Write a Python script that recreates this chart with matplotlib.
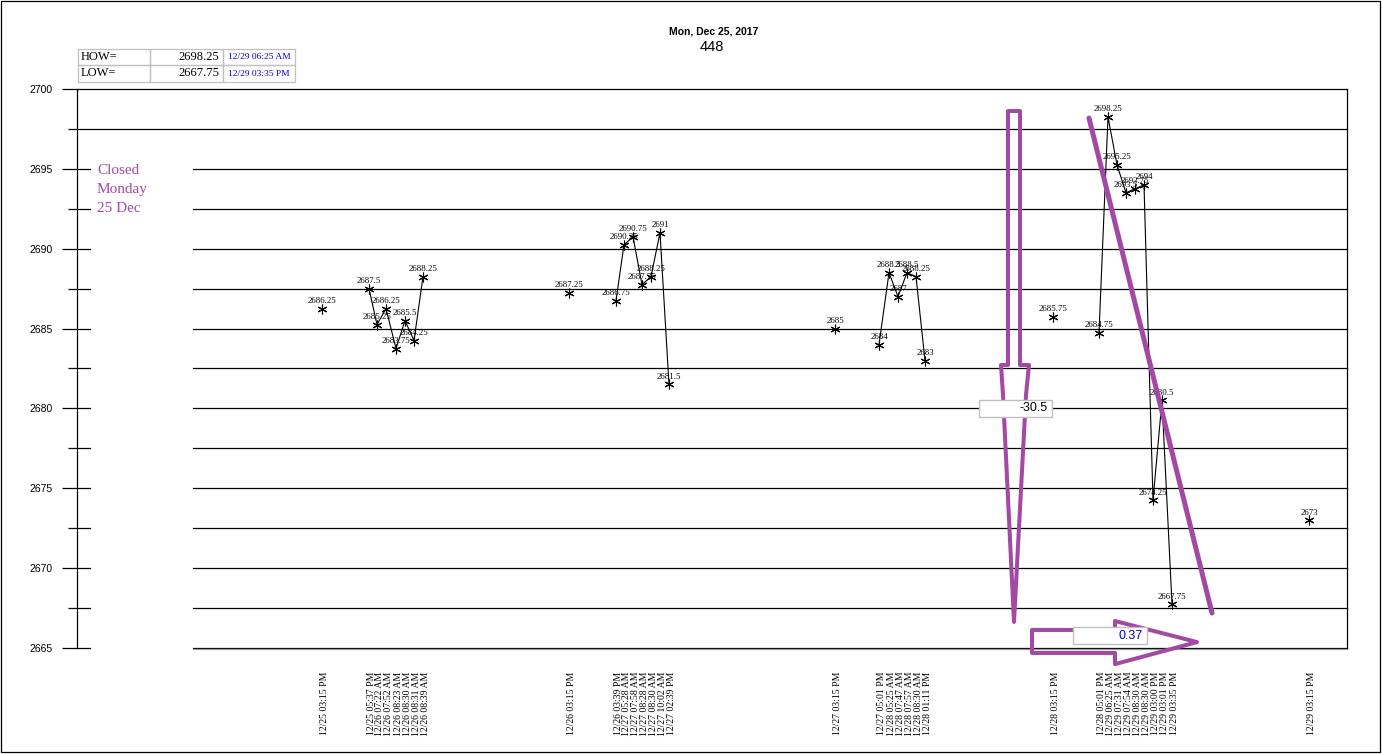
import numpy as np
import matplotlib
matplotlib.use("Agg")
from matplotlib import pyplot as plt
from matplotlib.patches import Rectangle, Polygon
import matplotlib.transforms as mtransforms

W, H = 1382, 754

# ---- data ----
times = ["12/25 03:15 PM",
         "12/25 05:37 PM", "12/26 07:22 AM", "12/26 07:52 AM", "12/26 08:23 AM",
         "12/26 08:30 AM", "12/26 08:31 AM", "12/26 08:39 AM",
         "12/26 03:15 PM",
         "12/26 03:39 PM", "12/27 05:28 AM", "12/27 07:58 AM", "12/27 08:28 AM",
         "12/27 08:30 AM", "12/27 10:02 AM", "12/27 02:39 PM",
         "12/27 03:15 PM",
         "12/27 05:01 PM", "12/28 05:25 AM", "12/28 07:47 AM", "12/28 07:57 AM",
         "12/28 08:30 AM", "12/28 01:11 PM",
         "12/28 03:15 PM",
         "12/28 05:01 PM", "12/29 06:25 AM", "12/29 07:31 AM", "12/29 07:54 AM",
         "12/29 08:30 AM", "12/29 08:30 AM", "12/29 03:00 PM", "12/29 03:01 PM",
         "12/29 03:35 PM",
         "12/29 03:15 PM"]

# horizontal slot of each quote (chart's own uneven spacing)
x_pos = [322,
         369, 377, 386, 396, 405, 414, 423,
         569,
         616, 624, 633, 642, 651, 660, 669,
         835,
         879, 889, 898, 907, 916, 925,
         1053,
         1099, 1108, 1117, 1126, 1135, 1144, 1153, 1162, 1172,
         1309]

prices = [2686.25,
          2687.5, 2685.25, 2686.25, 2683.75, 2685.5, 2684.25, 2688.25,
          2687.25,
          2686.75, 2690.25, 2690.75, 2687.75, 2688.25, 2691, 2681.5,
          2685,
          2684, 2688.5, 2687, 2688.5, 2688.25, 2683,
          2685.75,
          2684.75, 2698.25, 2695.25, 2693.5, 2693.75, 2694, 2674.25, 2680.5, 2667.75,
          2673]

# points with the same session number are joined by a line
session = [0,
           1, 1, 1, 1, 1, 1, 1,
           2,
           3, 3, 3, 3, 3, 3, 3,
           4,
           5, 5, 5, 5, 5, 5,
           6,
           7, 7, 7, 7, 7, 7, 7, 7, 7,
           8]

hi_lo_names = ["HOW=", "LOW="]
hi_lo_values = ["2698.25", "2667.75"]
hi_lo_times = ["12/29 06:25 AM", "12/29 03:35 PM"]

change_text = "-30.5"
ratio_text = "0.37"
closed_note = ["Closed", "Monday", "25 Dec"]

PURPLE = "#A349A4"
SERIF = "Liberation Serif"
SANS = "Liberation Sans"

fig = plt.figure(figsize=(W / 100, H / 100), dpi=100)
fig.patch.set_facecolor("white")
# pixel transform (y down) for page furniture
pix = mtransforms.Affine2D().scale(1 / W, -1 / H).translate(0, 1) + fig.transFigure

ax = fig.add_axes([77 / W, 1 - 648 / H, 1270 / W, 559 / H])
ax.set_xlim(77, 1347)
ax.set_ylim(2665, 2700)
ax.spines["top"].set_visible(False)
ax.spines["bottom"].set_visible(False)
for s in ["left", "right"]:
    ax.spines[s].set_linewidth(0.9)

# horizontal grid lines, broken where the closed day sits
ytr = ax.get_yaxis_transform()
for lv in np.arange(2665, 2700.1, 2.5):
    if lv >= 2697.5:
        ax.plot([0, 1], [lv, lv], transform=ytr, color="black", lw=0.9, zorder=1, clip_on=False)
    else:
        ax.plot([0, 13 / 1270], [lv, lv], transform=ytr, color="black", lw=0.9, zorder=1, clip_on=False)
        ax.plot([116 / 1270, 1], [lv, lv], transform=ytr, color="black", lw=0.9, zorder=1, clip_on=False)
shadow = ytr + mtransforms.ScaledTranslation(0, -1.2 / 100, fig.dpi_scale_trans)
ax.plot([116 / 1270, 1], [2665, 2665], transform=shadow, color="#9a9a9a", lw=0.9, zorder=1, clip_on=False)

ax.set_yticks(np.arange(2665, 2701, 5))
ax.set_yticks(np.arange(2667.5, 2700, 5), minor=True)
ax.tick_params(axis="y", which="major", length=10.8, width=0.9, pad=6.5, labelsize=7.5)
ax.tick_params(axis="y", which="minor", length=6.5, width=0.9)
for lbl in ax.get_yticklabels():
    lbl.set_family(SANS)

ax.set_xticks(x_pos)
ax.set_xticklabels(times, rotation=90, fontsize=7, family=SERIF)
ax.tick_params(axis="x", length=0, pad=17)
shift = mtransforms.ScaledTranslation(2.5 / 100, 0, fig.dpi_scale_trans)
for lbl in ax.get_xticklabels():
    lbl.set_transform(lbl.get_transform() + shift)

# quotes
x_arr = np.array(x_pos)
p_arr = np.array(prices)
s_arr = np.array(session)
for s in np.unique(s_arr):
    m = s_arr == s
    ax.plot(x_arr[m], p_arr[m], color="black", lw=0.8, marker=(6, 2, 0),
            ms=7, mew=0.8, mec="black", zorder=3)
for x, p in zip(x_pos, prices):
    ax.annotate(f"{p:g}", (x, p), xytext=(0, 2.5), textcoords="offset points",
                ha="center", va="bottom", fontsize=6.3, family=SERIF,
                color="black", zorder=4)

# hand-drawn purple marks
down_arrow = [(1008, 2698.62), (1020, 2698.62), (1020, 2682.72), (1029, 2682.72),
              (1026, 2680.84), (1014, 2666.63), (1003, 2680.84), (1001, 2682.72),
              (1008, 2682.72)]
ax.add_patch(Polygon(down_arrow, closed=True, fill=False, ec=PURPLE, lw=2.9,
                     joinstyle="round", zorder=5, clip_on=False))
right_arrow = [(1032, 2666.13), (1115, 2666.13), (1115, 2666.69), (1197, 2665.37),
               (1115, 2663.99), (1115, 2664.69), (1032, 2664.69)]
ax.add_patch(Polygon(right_arrow, closed=True, fill=False, ec=PURPLE, lw=2.9,
                     joinstyle="round", zorder=5, clip_on=False))
ax.plot([1089, 1212], [2698.18, 2667.19], color=PURPLE, lw=3.6,
        solid_capstyle="round", zorder=5)

# value boxes
ax.add_patch(Rectangle((979, 2679.47), 73, 1.06, fc="white", ec="#c0c0c0", lw=1,
                       zorder=6, clip_on=False))
ax.text(1048, 2680.0, change_text, ha="right", va="center", fontsize=9,
        family=SANS, color="black", zorder=7)
ax.add_patch(Rectangle((1073, 2665.25), 74, 1.06, fc="white", ec="#c0c0c0", lw=1,
                       zorder=6, clip_on=False))
ax.text(1143, 2665.78, ratio_text, ha="right", va="center", fontsize=9,
        family=SANS, color="#0000dd", zorder=7, clip_on=False)

# closed-day note
for i, line in enumerate(closed_note):
    fig.text(97, 171 + 19 * i, line, transform=pix, ha="left", va="center",
             fontsize=11, family=SERIF, color=PURPLE)

# titles
fig.text(714, 32, "Mon, Dec 25, 2017", transform=pix, ha="center", va="center",
         fontsize=7.5, fontweight="bold", family=SANS)
fig.text(712, 47, "448", transform=pix, ha="center", va="center",
         fontsize=10.5, family=SANS)

# high / low table
cols = [78, 150, 223, 295]
rows = [49, 65, 82]
for r in range(2):
    for c in range(3):
        fig.add_artist(Rectangle((cols[c], rows[r]), cols[c + 1] - cols[c],
                                 rows[r + 1] - rows[r], transform=pix,
                                 fill=False, ec="#c0c0c0", lw=0.9))
    yc = (rows[r] + rows[r + 1]) / 2
    fig.text(81, yc, hi_lo_names[r], transform=pix, ha="left", va="center",
             fontsize=9, family=SERIF)
    fig.text(219, yc, hi_lo_values[r], transform=pix, ha="right", va="center",
             fontsize=9, family=SERIF)
    fig.text(228, yc, hi_lo_times[r], transform=pix, ha="left", va="center",
             fontsize=6.8, family=SERIF, color="#0000dd")

# outer frame
fig.add_artist(Rectangle((1, 1), W - 3, H - 3, transform=pix, fill=False,
                         ec="black", lw=0.9))

fig.savefig("out.png", dpi=100)
